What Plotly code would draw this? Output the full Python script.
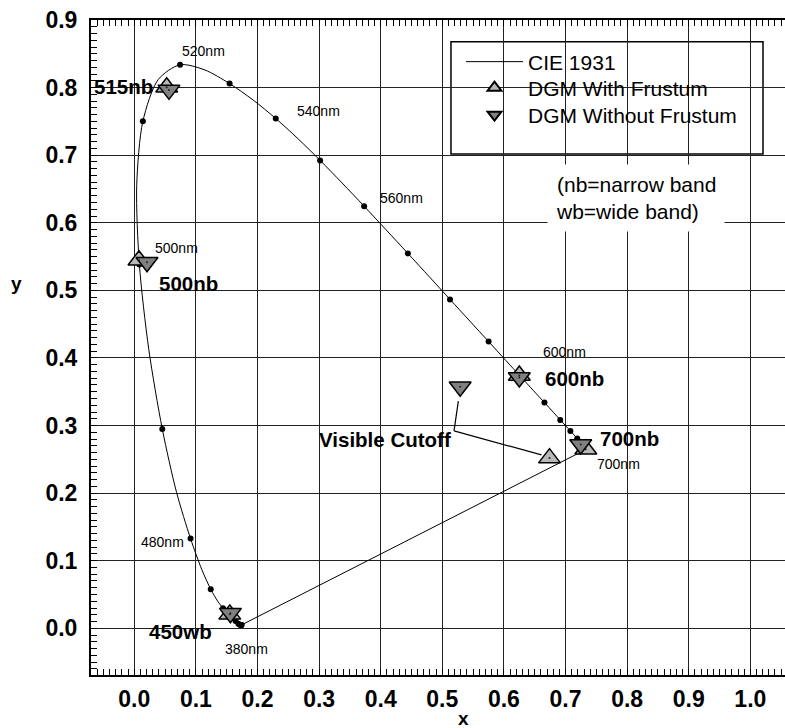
import plotly.graph_objects as go

# CIE 1931 spectral locus (5 nm steps, 380-700 nm)
wl = [380, 385, 390, 395, 400, 405, 410, 415, 420, 425, 430, 435, 440, 445, 450, 455,
      460, 465, 470, 475, 480, 485, 490, 495, 500, 505, 510, 515, 520, 525, 530, 535,
      540, 545, 550, 555, 560, 565, 570, 575, 580, 585, 590, 595, 600, 605, 610, 615,
      620, 625, 630, 635, 640, 645, 650, 655, 660, 665, 670, 675, 680, 685, 690, 695, 700]
cie_x = [0.1741, 0.1740, 0.1738, 0.1736, 0.1733, 0.1730, 0.1726, 0.1721, 0.1714, 0.1703,
         0.1689, 0.1669, 0.1644, 0.1611, 0.1566, 0.1510, 0.1440, 0.1355, 0.1241, 0.1096,
         0.0913, 0.0687, 0.0454, 0.0235, 0.0082, 0.0039, 0.0139, 0.0389, 0.0743, 0.1142,
         0.1547, 0.1929, 0.2296, 0.2658, 0.3016, 0.3373, 0.3731, 0.4087, 0.4441, 0.4788,
         0.5125, 0.5448, 0.5752, 0.6029, 0.6270, 0.6482, 0.6658, 0.6801, 0.6915, 0.7006,
         0.7079, 0.7140, 0.7190, 0.7230, 0.7260, 0.7283, 0.7300, 0.7311, 0.7320, 0.7327,
         0.7334, 0.7340, 0.7344, 0.7346, 0.7347]
cie_y = [0.0050, 0.0050, 0.0049, 0.0049, 0.0048, 0.0048, 0.0048, 0.0048, 0.0051, 0.0058,
         0.0069, 0.0086, 0.0109, 0.0138, 0.0177, 0.0227, 0.0297, 0.0399, 0.0578, 0.0868,
         0.1327, 0.2007, 0.2950, 0.4127, 0.5384, 0.6548, 0.7502, 0.8120, 0.8338, 0.8262,
         0.8059, 0.7816, 0.7543, 0.7243, 0.6923, 0.6589, 0.6245, 0.5896, 0.5547, 0.5202,
         0.4866, 0.4544, 0.4242, 0.3965, 0.3725, 0.3514, 0.3340, 0.3197, 0.3083, 0.2993,
         0.2920, 0.2859, 0.2809, 0.2770, 0.2740, 0.2717, 0.2700, 0.2689, 0.2680, 0.2673,
         0.2666, 0.2660, 0.2656, 0.2654, 0.2653]

labels = ["515nb", "500nb", "600nb", "700nb", "450wb", "Visible Cutoff"]
with_x = [0.0526, 0.0076, 0.625, 0.733, 0.155, 0.674]
with_y = [0.8005, 0.5446, 0.374, 0.265, 0.0206, 0.2518]
without_x = [0.0563, 0.0206, 0.625, 0.7247, 0.156, 0.529]
without_y = [0.7966, 0.5417, 0.371, 0.272, 0.0224, 0.3575]

# wavelength labels
nm_text = ["520nm", "540nm", "560nm", "500nm", "600nm", "700nm", "480nm", "380nm"]
nm_x = [0.1127, 0.2987, 0.4338, 0.0682, 0.6987, 0.7852, 0.0453, 0.1816]
nm_y = [0.8538, 0.7647, 0.6369, 0.5625, 0.4085, 0.2432, 0.1273, -0.0306]

# band labels
band_x = [-0.0183, 0.0883, 0.7146, 0.8031, 0.0755, 0.4065]
band_y = [0.8012, 0.5107, 0.369, 0.2802, -0.005, 0.2787]

FONT = "Liberation Sans, Arial, sans-serif"

fig = go.Figure()

# spectral locus (smooth) and purple line closing it
fig.add_trace(go.Scatter(x=cie_x, y=cie_y, mode="lines", name="CIE 1931",
                         legend="legend", legendgroup="cie",
                         line=dict(color="black", width=1, shape="spline", smoothing=0.8)))
fig.add_trace(go.Scatter(x=[cie_x[-1], cie_x[0]], y=[cie_y[-1], cie_y[0]], mode="lines",
                         showlegend=False, legendgroup="cie",
                         line=dict(color="black", width=1)))
# 10 nm dots
dot_x = [cie_x[i] for i in range(0, len(wl), 2)]
dot_y = [cie_y[i] for i in range(0, len(wl), 2)]
fig.add_trace(go.Scatter(x=dot_x, y=dot_y, mode="markers", showlegend=False,
                         marker=dict(color="black", size=6)))

fig.add_trace(go.Scatter(x=with_x, y=with_y, mode="markers", name="DGM With Frustum",
                         legend="legend2",
                         marker=dict(symbol="triangle-up", size=19, color="#b8b8b8",
                                     line=dict(color="black", width=1.5))))
fig.add_trace(go.Scatter(x=without_x, y=without_y, mode="markers", name="DGM Without Frustum",
                         legend="legend3",
                         marker=dict(symbol="triangle-down", size=19, color="#808080",
                                     line=dict(color="black", width=1.5))))
# center dots of triangles
fig.add_trace(go.Scatter(x=with_x + without_x, y=with_y + without_y, mode="markers",
                         showlegend=False, marker=dict(color="#222", size=2)))

annotations = []
for t, x, y in zip(nm_text, nm_x, nm_y):
    annotations.append(dict(x=x, y=y, xref="x", yref="y", text=t, showarrow=False,
                            font=dict(family=FONT, size=14, color="black")))
for t, x, y in zip(labels, band_x, band_y):
    annotations.append(dict(x=x, y=y, xref="x", yref="y", text=t, showarrow=False,
                            font=dict(family=FONT, size=20.5, color="black", weight="bold")))
annotations.append(dict(x=0.5365, y=-0.066, xref="paper", yref="paper", text="x",
                        xanchor="center", yanchor="middle", showarrow=False,
                        font=dict(family=FONT, size=19, color="black", weight="bold")))
annotations.append(dict(x=-0.108, y=0.598, xref="paper", yref="paper", text="y",
                        xanchor="center", yanchor="middle", showarrow=False,
                        font=dict(family=FONT, size=19, color="black", weight="bold")))
annotations.append(dict(x=0.786, y=0.728, xref="paper", yref="paper",
                        xanchor="center", yanchor="middle",
                        text="(nb=narrow band<br>wb=wide band)", align="left",
                        showarrow=False, bgcolor="white", borderpad=8,
                        font=dict(family=FONT, size=21, color="black")))

shapes = [
    dict(type="rect", xref="paper", yref="paper", x0=0.5187, x1=0.9683, y0=0.7954, y1=0.9669,
         fillcolor="white", line=dict(color="black", width=1.5), layer="between"),
    dict(type="line", xref="x", yref="y", x0=0.519, y0=0.292, x1=0.526, y1=0.336,
         line=dict(color="black", width=1.2)),
    dict(type="line", xref="x", yref="y", x0=0.519, y0=0.292, x1=0.661, y1=0.2565,
         line=dict(color="black", width=1.2)),
]

axis_common = dict(showgrid=True, gridcolor="#222", gridwidth=1, zeroline=False,
                   showline=True, linecolor="black", linewidth=2,
                   ticks="inside", ticklen=6, tickcolor="black",
                   tickformat=".1f", tick0=0, dtick=0.1,
                   tickfont=dict(family=FONT, size=23, color="black", weight="bold"),
                   minor=dict(dtick=0.01, ticks="inside", ticklen=6, tickcolor="black",
                              showgrid=False))

LEG_X = (461 - 91) / 694
leg_common = dict(x=LEG_X, xanchor="left", yanchor="middle", bgcolor="rgba(0,0,0,0)",
                  borderwidth=0, font=dict(family=FONT, size=21, color="black"),
                  itemwidth=57)

fig.update_layout(
    width=785, height=728,
    margin=dict(l=91, r=0, t=20, b=53),
    paper_bgcolor="white", plot_bgcolor="white",
    xaxis=dict(range=[-0.0703, 1.0563], mirror="allticks", ticklabelstandoff=2, **axis_common),
    yaxis=dict(range=[-0.0691, 0.9], mirror=False, ticklabelstandoff=7, **axis_common),
    legend=dict(y=(675 - 62) / 655, itemsizing="trace", **leg_common),
    legend2=dict(y=(675 - 88) / 655, itemsizing="constant", **leg_common),
    legend3=dict(y=(675 - 115) / 655, itemsizing="constant", **leg_common),
    annotations=annotations,
    shapes=shapes,
    showlegend=True,
)

fig.write_html("out.html")
